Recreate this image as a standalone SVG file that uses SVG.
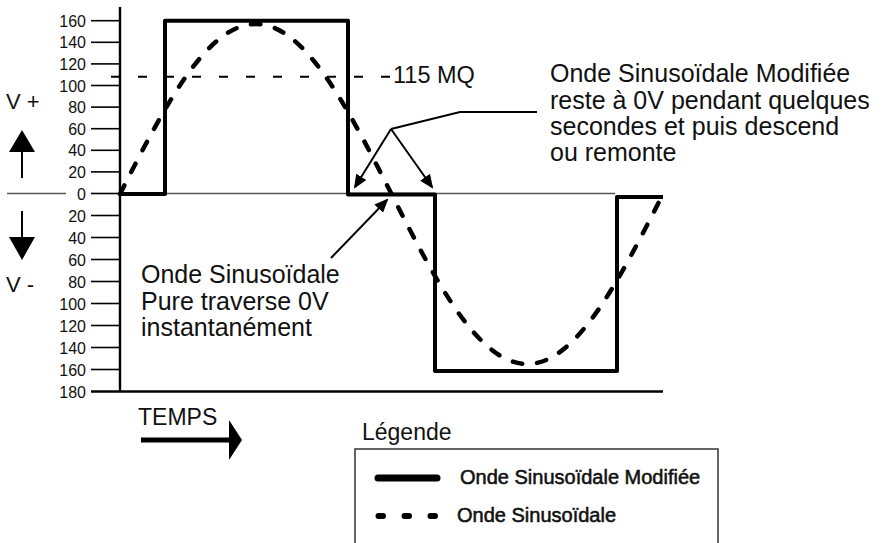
<svg xmlns="http://www.w3.org/2000/svg" width="885" height="543" viewBox="0 0 885 543">
<defs>
<style>
text{font-family:"Liberation Sans",Arial,sans-serif;fill:#111}
.tick{stroke:#000;stroke-width:1.6}
.tl{font-size:16px;text-anchor:end}
.big{font-size:25px}
.lg{font-size:20px;stroke:#111;stroke-width:0.55}
.ann{stroke:#000;stroke-width:2;fill:none}
</style>
<marker id="ah" markerUnits="userSpaceOnUse" viewBox="0 0 14 12" refX="12" refY="6" markerWidth="14" markerHeight="12" orient="auto">
<path d="M0,0 L14,6 L0,12 z" fill="#000"/>
</marker>
</defs>
<rect width="885" height="543" fill="#fff"/>
<g id="axes">
<line x1="7" y1="193.5" x2="66" y2="193.5" stroke="#555" stroke-width="1.4"/>
<line x1="120" y1="193.5" x2="615" y2="193.5" stroke="#555" stroke-width="1.4"/>
<line x1="120" y1="7" x2="120" y2="391.5" stroke="#000" stroke-width="2.4"/>
<line x1="91" y1="391.5" x2="663" y2="391.5" stroke="#000" stroke-width="2.6"/>
<g class="tick">
<line x1="91" y1="20.7" x2="120" y2="20.7"/>
<line x1="91" y1="42.3" x2="120" y2="42.3"/>
<line x1="91" y1="63.9" x2="120" y2="63.9"/>
<line x1="91" y1="85.5" x2="120" y2="85.5"/>
<line x1="91" y1="107.1" x2="120" y2="107.1"/>
<line x1="91" y1="128.7" x2="120" y2="128.7"/>
<line x1="91" y1="150.3" x2="120" y2="150.3"/>
<line x1="91" y1="171.9" x2="120" y2="171.9"/>
<line x1="91" y1="193.5" x2="120" y2="193.5"/>
<line x1="91" y1="215.5" x2="120" y2="215.5"/>
<line x1="91" y1="237.5" x2="120" y2="237.5"/>
<line x1="91" y1="259.5" x2="120" y2="259.5"/>
<line x1="91" y1="281.5" x2="120" y2="281.5"/>
<line x1="91" y1="303.5" x2="120" y2="303.5"/>
<line x1="91" y1="325.5" x2="120" y2="325.5"/>
<line x1="91" y1="347.5" x2="120" y2="347.5"/>
<line x1="91" y1="369.5" x2="120" y2="369.5"/>
</g>
<g class="tl">
<text x="86" y="26.7">160</text>
<text x="86" y="48.3">140</text>
<text x="86" y="69.9">120</text>
<text x="86" y="91.5">100</text>
<text x="86" y="113.1">80</text>
<text x="86" y="134.7">60</text>
<text x="86" y="156.3">40</text>
<text x="86" y="177.9">20</text>
<text x="86" y="199.5">0</text>
<text x="86" y="221.5">20</text>
<text x="86" y="243.5">40</text>
<text x="86" y="265.5">60</text>
<text x="86" y="287.5">80</text>
<text x="86" y="309.5">100</text>
<text x="86" y="331.5">120</text>
<text x="86" y="353.5">140</text>
<text x="86" y="375.5">160</text>
<text x="86" y="397.5">180</text>
</g>
<text x="6" y="109" style="font-size:22px">V +</text>
<text x="6" y="292" style="font-size:22px">V -</text>
<g id="up-arrow">
<line x1="22" y1="150" x2="22" y2="178" stroke="#000" stroke-width="2"/>
<path d="M9,152 L22,130 L35,152 z" fill="#000"/>
</g>
<g id="down-arrow">
<line x1="22" y1="211" x2="22" y2="240" stroke="#000" stroke-width="2"/>
<path d="M9,237 L22,260 L35,237 z" fill="#000"/>
</g>
</g>
<g id="mq-line">
<line x1="111" y1="76.7" x2="393" y2="76.7" stroke="#000" stroke-width="2" stroke-dasharray="9 18"/>
<text x="393" y="82.5" style="font-size:23.5px">115 MQ</text>
</g>
<g id="wave-sine">
<path d="M120,194 C164.27,106.91 206.62,24 255.75,24 C304.88,24 347.23,106.91 391.5,194 C435.77,281.09 478.12,364 527.25,364 C576.38,364 618.73,281.09 663,194" fill="none" stroke="#000" stroke-width="4.5" stroke-linecap="round" stroke-dasharray="9.5 15"/>
</g>
<g id="wave-modified">
<path d="M120,194 H165 V20.7 H348 V194.5 H435 V371 H617 V197 H663" fill="none" stroke="#000" stroke-width="4" stroke-linejoin="round"/>
</g>
<g id="connectors">
<polyline class="ann" points="537,112 460,112 391,129"/>
<line class="ann" x1="391" y1="129" x2="355" y2="187" marker-end="url(#ah)"/>
<line class="ann" x1="391" y1="129" x2="432" y2="187" marker-end="url(#ah)"/>
<line class="ann" x1="331" y1="258" x2="387" y2="200" marker-end="url(#ah)"/>
</g>
<g id="note-modified">
<text class="big" x="550" y="82">Onde Sinusoïdale Modifiée</text>
<text class="big" x="550" y="108.5">reste à 0V pendant quelques</text>
<text class="big" x="550" y="135">secondes et puis descend</text>
<text class="big" x="550" y="161">ou remonte</text>
</g>
<g id="note-pure">
<text class="big" x="141" y="283">Onde Sinusoïdale</text>
<text class="big" x="141" y="309.5">Pure traverse 0V</text>
<text class="big" x="141" y="336">instantanément</text>
</g>
<g id="time">
<text x="138" y="425" style="font-size:23px">TEMPS</text>
<line x1="141" y1="440" x2="231" y2="440" stroke="#000" stroke-width="5"/>
<path d="M229,420 L242,440 L229,460 z" fill="#000"/>
</g>
<g id="legend">
<text x="362" y="440" style="font-size:23px">Légende</text>
<path d="M355,560 V449 H718 V560" fill="none" stroke="#333" stroke-width="1.5"/>
<line x1="378" y1="478" x2="437" y2="478" stroke="#000" stroke-width="7" stroke-linecap="round"/>
<text class="lg" x="460" y="484">Onde Sinusoïdale Modifiée</text>
<line x1="378.5" y1="516" x2="436" y2="516" stroke="#000" stroke-width="6" stroke-linecap="round" stroke-dasharray="4.5 21.5"/>
<text class="lg" x="457" y="522">Onde Sinusoïdale</text>
</g>
</svg>
